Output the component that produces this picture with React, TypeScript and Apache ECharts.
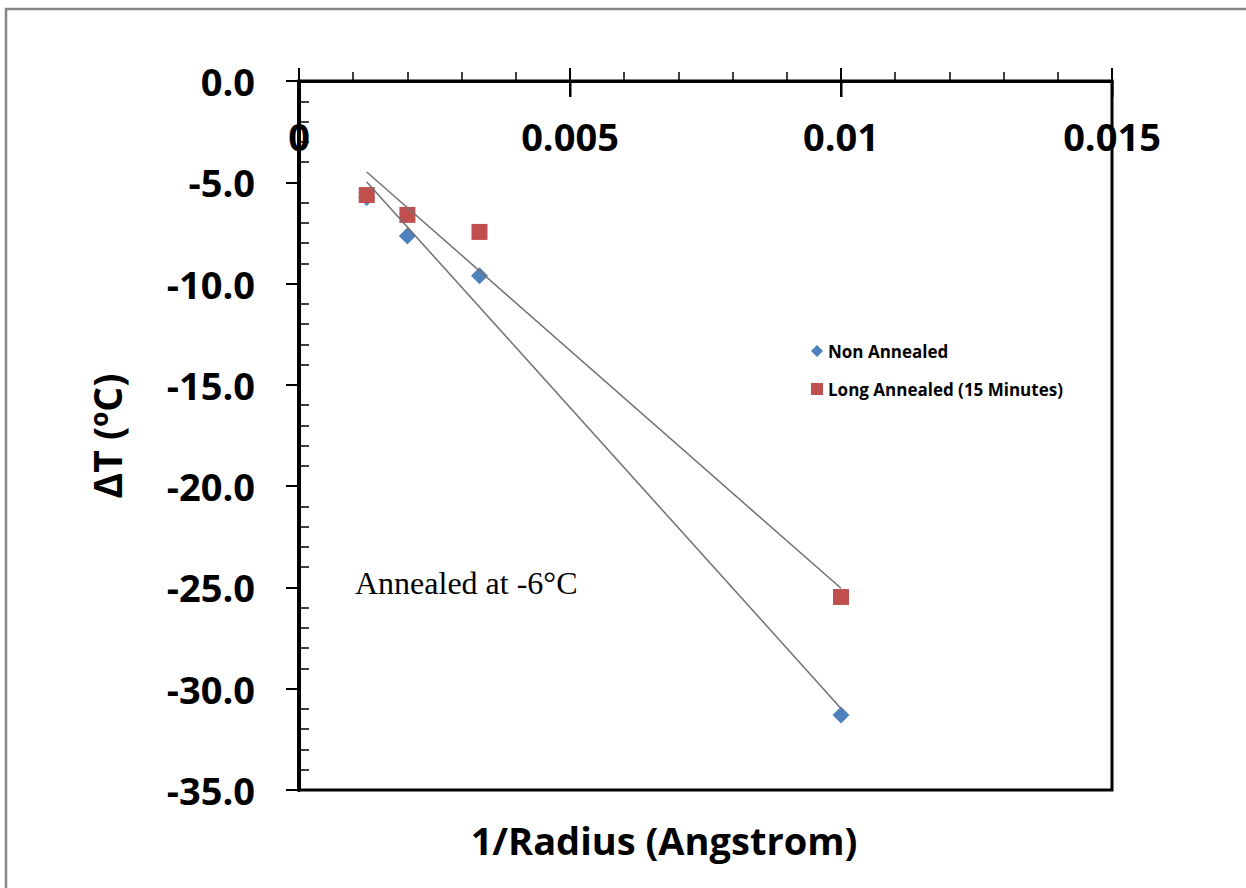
import React, { useEffect, useRef } from "react";
import * as echarts from "echarts";

const seriesNames = ["Non Annealed", "Long Annealed (15 Minutes)"];
const xValues = [0.00125, 0.002, 0.00333, 0.01];
const nonAnnealed = [-5.75, -7.65, -9.62, -31.3];
const longAnnealed = [-5.63, -6.61, -7.45, -25.47];
const xMajorTicks = [0, 0.005, 0.01, 0.015];
const xAxisTitle = "1/Radius (Angstrom)";
const yAxisTitle = "ΔT (ºC)";
const noteText = "Annealed at -6°C";

function fit(xs: number[], ys: number[]) {
  const n = xs.length;
  const mx = xs.reduce((a, b) => a + b, 0) / n;
  const my = ys.reduce((a, b) => a + b, 0) / n;
  let sxy = 0, sxx = 0;
  for (let i = 0; i < n; i++) {
    sxy += (xs[i] - mx) * (ys[i] - my);
    sxx += (xs[i] - mx) * (xs[i] - mx);
  }
  const k = sxy / sxx;
  const b = my - k * mx;
  const x0 = Math.min(...xs);
  const x1 = Math.max(...xs);
  return [[x0, k * x0 + b], [x1, k * x1 + b]];
}

export default function App() {
  const ref = useRef<HTMLDivElement>(null);
  useEffect(() => {
    if (!ref.current) return;
    const chart = echarts.init(ref.current, null, { renderer: "svg" });
    const font = "'Open Sans', 'Noto Sans', sans-serif";
    const blue = "#4F81BD";
    const red = "#C0504D";
    chart.setOption({
      animation: false,
      backgroundColor: "#fff",
      grid: {
        left: 299,
        top: 81,
        right: 134,
        bottom: 98,
        show: true,
        borderColor: "#000",
        borderWidth: 3,
        containLabel: false,
      },
      xAxis: {
        type: "value",
        position: "top",
        min: 0,
        max: 0.015,
        interval: 0.005,
        axisLine: { show: true, lineStyle: { color: "#000", width: 3 } },
        axisTick: { show: true, inside: false, length: 13, lineStyle: { color: "#000", width: 2 } },
        minorTick: { show: true, splitNumber: 5, length: 9, lineStyle: { color: "#000", width: 1.5 } },
        splitLine: { show: false },
        minorSplitLine: { show: false },
        axisLabel: {
          inside: true,
          margin: 36,
          color: "#000",
          fontFamily: font,
          fontWeight: "bold",
          fontSize: 38,
        },
      },
      yAxis: [
        {
          type: "value",
          position: "left",
          min: -35,
          max: 0,
          interval: 5,
          axisLine: { show: true, lineStyle: { color: "#000", width: 4 } },
          axisTick: { show: true, inside: false, length: 13, lineStyle: { color: "#000", width: 2 } },
          minorTick: { show: false },
          splitLine: { show: false },
          axisLabel: {
            margin: 44,
            color: "#000",
            fontFamily: font,
            fontWeight: "bold",
            fontSize: 38,
            formatter: (v: number) => (v === 0 ? "0.0" : v.toFixed(1)),
          },
        },
        {
          type: "value",
          position: "left",
          offset: 0,
          min: -35,
          max: 0,
          interval: 5,
          axisLine: { show: false },
          axisTick: { show: false, inside: true },
          minorTick: { show: true, splitNumber: 5, length: 10, lineStyle: { color: "#000", width: 1.5 } },
          splitLine: { show: false },
          axisLabel: { show: false },
        },
      ],
      legend: {
        orient: "vertical",
        left: 806,
        top: 336,
        itemWidth: 12,
        itemHeight: 12,
        itemGap: 18,
        textStyle: {
          color: "#000",
          fontFamily: font,
          fontWeight: "bold",
          fontSize: 17,
          lineHeight: 20,
        },
        data: [
          { name: seriesNames[0], icon: "diamond" },
          { name: seriesNames[1], icon: "rect" },
        ],
      },
      series: [
        {
          name: seriesNames[0],
          type: "scatter",
          symbol: "diamond",
          symbolSize: 17,
          itemStyle: { color: blue, opacity: 1 },
          data: xValues.map((x, i) => [x, nonAnnealed[i]]),
          z: 3,
        },
        {
          name: seriesNames[1],
          type: "scatter",
          symbol: "rect",
          symbolSize: 16,
          itemStyle: { color: red, opacity: 1 },
          data: xValues.map((x, i) => [x, longAnnealed[i]]),
          z: 3,
        },
        {
          name: "trend1",
          type: "line",
          data: fit(xValues, nonAnnealed),
          showSymbol: false,
          symbol: "none",
          lineStyle: { color: "#707070", width: 1.5 },
          z: 4,
          silent: true,
        },
        {
          name: "trend2",
          type: "line",
          data: fit(xValues, longAnnealed),
          showSymbol: false,
          symbol: "none",
          lineStyle: { color: "#707070", width: 1.5 },
          z: 4,
          silent: true,
        },
        {
          name: "xTicksInside",
          type: "custom",
          silent: true,
          clip: false,
          z: 10,
          xAxisIndex: 0,
          yAxisIndex: 0,
          encode: { x: 0, y: 1 },
          data: xMajorTicks.map((v) => [v, 0]),
          renderItem: (params: any, api: any) => {
            const p = api.coord([api.value(0), api.value(1)]);
            return {
              type: "rect",
              shape: { x: p[0] - 1, y: p[1], width: 2.5, height: 16 },
              style: { fill: "#000" },
            };
          },
        },
      ],
      graphic: [
        {
          type: "rect",
          shape: { x: 6, y: 9, width: 1400, height: 1000 },
          style: { fill: "none", stroke: "#868686", lineWidth: 2.5 },
          silent: true,
        },
        {
          type: "text",
          x: 106,
          y: 436,
          rotation: Math.PI / 2,
          style: {
            text: yAxisTitle,
            fill: "#000",
            font: `bold 39px ${font}`,
            align: "center",
            verticalAlign: "middle",
          },
        },
        {
          type: "text",
          x: 664,
          y: 840,
          style: {
            text: xAxisTitle,
            fill: "#000",
            font: `bold 38px ${font}`,
            align: "center",
            verticalAlign: "middle",
          },
        },
        {
          type: "text",
          x: 355,
          y: 583,
          style: {
            text: noteText,
            fill: "#000",
            font: "32px 'Liberation Serif', 'Times New Roman', serif",
            align: "left",
            verticalAlign: "middle",
          },
        },
      ],
    });
    return () => chart.dispose();
  }, []);
  return (
    <div
      ref={ref}
      style={{ position: "fixed", left: 0, top: 0, width: 1246, height: 888 }}
    />
  );
}
